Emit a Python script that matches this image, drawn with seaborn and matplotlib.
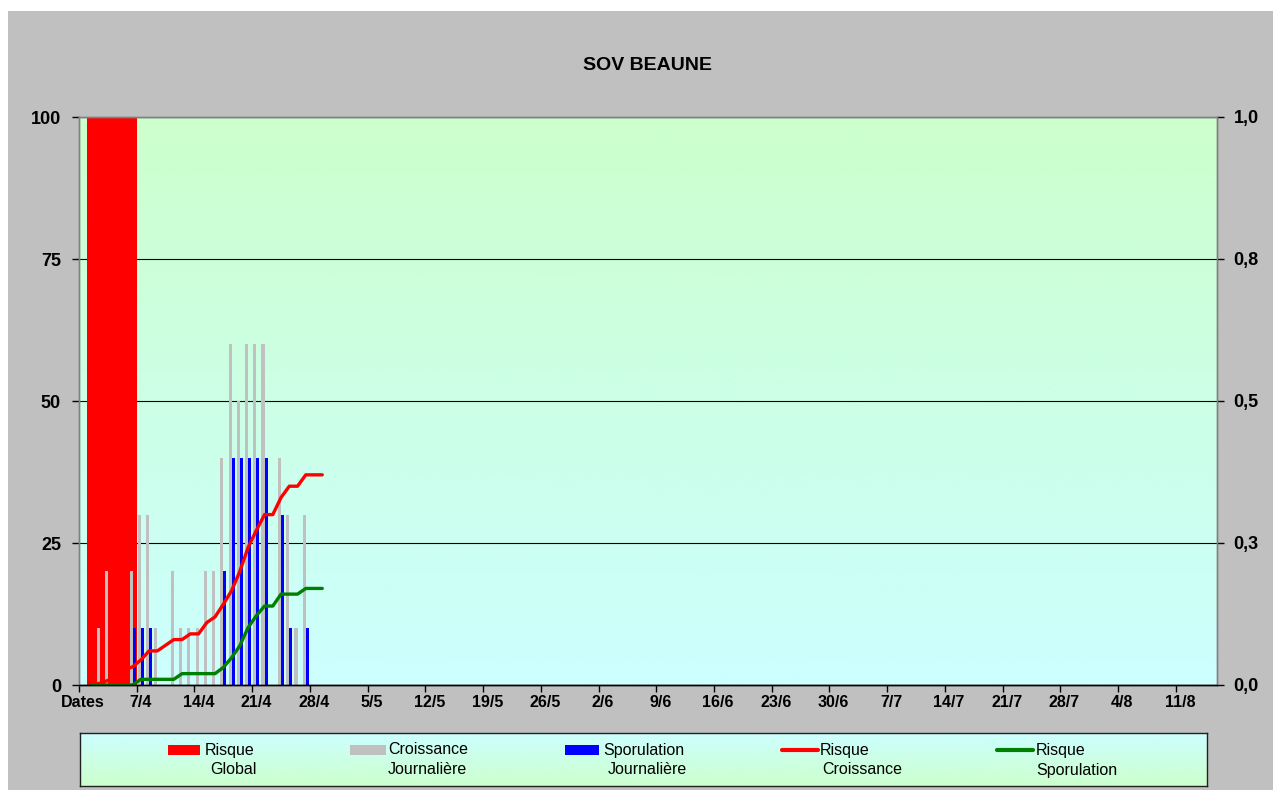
"""SOV BEAUNE : risque global, croissance et sporulation journalières (avril)."""

import numpy as np
import pandas as pd
import matplotlib
matplotlib.use('Agg')
import matplotlib.pyplot as plt
from matplotlib.patches import Rectangle
from matplotlib.lines import Line2D
import seaborn as sns

# Position 0 = "Dates", puis 1 = 1/4, 2 = 2/4 ...
jour = [1, 2, 3, 4, 5, 6, 7, 8, 9, 10, 11, 12, 13, 14, 15,
        16, 17, 18, 19, 20, 21, 22, 23, 24, 25, 26, 27, 28, 29]
risque_global = [100, 100, 100, 100, 100, 100, 0, 0, 0, 0, 0, 0, 0, 0, 0,
                 0, 0, 0, 0, 0, 0, 0, 0, 0, 0, 0, 0, 0, 0]
croissance = [0, 10, 20, 0, 0, 20, 30, 30, 10, 0, 20, 10, 10, 10, 20,
              20, 40, 60, 50, 60, 60, 60, 0, 40, 30, 10, 30, 0, 0]
sporulation = [0, 0, 0, 0, 0, 10, 10, 10, 0, 0, 0, 0, 0, 0, 0,
               0, 20, 40, 40, 40, 40, 40, 0, 30, 10, 0, 10, 0, 0]
risque_croissance = [0.0, 0.003, 0.008, 0.016, 0.026, 0.032, 0.044, 0.06, 0.06, 0.07,
                     0.08, 0.08, 0.09, 0.09, 0.11, 0.12, 0.142, 0.166, 0.20, 0.242,
                     0.272, 0.30, 0.30, 0.33, 0.35, 0.35, 0.37, 0.37, 0.37]
risque_sporulation = [0.0, 0.0, 0.0, 0.0, 0.0, 0.0, 0.01, 0.01, 0.01, 0.01,
                      0.01, 0.02, 0.02, 0.02, 0.02, 0.02, 0.031, 0.048, 0.069, 0.101,
                      0.122, 0.139, 0.139, 0.16, 0.16, 0.16, 0.17, 0.17, 0.17]

tick_labels = ['Dates', '7/4', '14/4', '21/4', '28/4', '5/5', '12/5', '19/5', '26/5',
               '2/6', '9/6', '16/6', '23/6', '30/6', '7/7', '14/7', '21/7', '28/7',
               '4/8', '11/8']
y_ticks = [0, 25, 50, 75, 100]
y2_ticks = [0, 0.25, 0.5, 0.75, 1.0]
y2_labels = ['0,0', '0,3', '0,5', '0,8', '1,0']
n_jours = 138  # Dates + 1/4 .. 15/8

W, H = 1273, 790


def gradient(top, bottom):
    """Image verticale allant de la couleur top à la couleur bottom."""
    top = np.array(matplotlib.colors.to_rgb(top))
    bottom = np.array(matplotlib.colors.to_rgb(bottom))
    t = np.linspace(0, 1, 256)[:, None]
    return (top + (bottom - top) * t)[:, None, :]


sns.set_style('ticks')
plt.rcParams['font.family'] = ['Liberation Sans', 'DejaVu Sans']
plt.rcParams['text.color'] = 'black'
plt.rcParams['xtick.color'] = 'black'
plt.rcParams['ytick.color'] = 'black'
plt.rcParams['axes.labelcolor'] = 'black'

fig = plt.figure(figsize=(W / 100, H / 100), dpi=100)
fig.patch.set_facecolor('white')
fig.add_artist(Rectangle((8 / W, 0), 1, 1 - 11 / H, transform=fig.transFigure,
                         facecolor='#C0C0C0', edgecolor='none', zorder=-10))

pos = [79 / W, 1 - 685 / H, 1138 / W, 568 / H]

# fond dégradé de la zone de tracé
bg = fig.add_axes(pos, zorder=0)
bg.imshow(gradient('#CCFFCC', '#CCFFFF'), extent=[0, 1, 0, 1], aspect='auto')
bg.set_xlim(0, 1)
bg.set_ylim(0, 1)
bg.axis('off')

ax = fig.add_axes(pos, zorder=1)
ax.patch.set_alpha(0)

sns.barplot(x=jour, y=risque_global, color='#FF0000', saturation=1, width=1.0,
            native_scale=True, linewidth=0, errorbar=None, ax=ax)

df_j = pd.DataFrame({'jour': jour + jour,
                     'valeur': croissance + sporulation,
                     'serie': ['Croissance'] * len(jour) + ['Sporulation'] * len(jour)})
sns.barplot(data=df_j, x='jour', y='valeur', hue='serie',
            palette=['#C0C0C0', '#0000FF'], saturation=1, width=0.74,
            native_scale=True, dodge=True, linewidth=0, errorbar=None,
            legend=False, ax=ax)

ax2 = ax.twinx()
sns.lineplot(x=jour, y=risque_croissance, color='#FF0000', linewidth=2.4, ax=ax2)
sns.lineplot(x=jour, y=risque_sporulation, color='#008000', linewidth=2.4, ax=ax2)

# axe des x : graduations entre catégories, étiquettes au centre
ax.set_xlim(-0.5, n_jours - 0.5)
ax.set_xticks(np.arange(-0.5, n_jours, 7))
ax.set_xticklabels([])
ax.set_xticks(np.arange(0, n_jours, 7)[:len(tick_labels)], minor=True)
ax.set_xticklabels(tick_labels, minor=True, fontsize=11.5, fontweight='bold')
ax.tick_params(axis='x', which='minor', length=0, pad=7, bottom=True)
ax.tick_params(axis='x', which='major', length=5, width=1, color='black',
               direction='out', bottom=True)

ax.set_ylim(0, 100)
ax.set_yticks(y_ticks)
ax.set_yticklabels([str(v) for v in y_ticks], fontsize=13, fontweight='bold')
ax.tick_params(axis='y', length=5, width=1, color='black', direction='out',
               pad=8, left=True)
ax.yaxis.grid(True, color='black', linewidth=0.8)
ax.xaxis.grid(False)
ax.set_axisbelow(True)
ax.set_xlabel('')
ax.set_ylabel('')

ax2.set_ylim(0, 1)
ax2.set_yticks(y2_ticks)
ax2.set_yticklabels(y2_labels, fontsize=13, fontweight='bold')
ax2.tick_params(axis='y', length=5, width=1, color='black', direction='out',
                pad=7, right=True)
ax2.grid(False)
ax2.set_ylabel('')
ax2.set_xlabel('')

for a in (ax, ax2):
    for side in ('left', 'right', 'top'):
        a.spines[side].set_color('#808080')
        a.spines[side].set_linewidth(1)
    a.spines['bottom'].set_color('black')
    a.spines['bottom'].set_linewidth(1)

fig.text(647 / W, 1 - 66 / H, 'SOV BEAUNE', ha='center', va='center',
         fontsize=14, fontweight='bold')

# légende dessinée à la main sous le graphique
lw_, lh_ = 1127, 53
lg = fig.add_axes([80 / W, 4 / H, lw_ / W, lh_ / H], zorder=2)
lg.imshow(gradient('#CCFFFF', '#CCFFCC'), extent=[0, lw_, 0, lh_], aspect='auto')
lg.set_xlim(0, lw_)
lg.set_ylim(0, lh_)
lg.set_xticks([])
lg.set_yticks([])
for s in lg.spines.values():
    s.set_color('#202020')
    s.set_linewidth(1)

entrees = [
    ('patch', '#FF0000', 88, 120, 125, 130, 'Risque', 'Global'),
    ('patch', '#C0C0C0', 270, 306, 308, 308, 'Croissance', 'Journalière'),
    ('patch', '#0000FF', 485, 519, 523, 528, 'Sporulation', 'Journalière'),
    ('line', '#FF0000', 702, 738, 740, 742, 'Risque', 'Croissance'),
    ('line', '#008000', 917, 953, 956, 956, 'Risque', 'Sporulation'),
]
y1, y2 = lh_ - 17, lh_ - 37
for kind, col, x0, x1, tx1, tx2, l1, l2 in entrees:
    if kind == 'patch':
        lg.add_patch(Rectangle((x0, y1 - 5), x1 - x0, 10, facecolor=col,
                               edgecolor='none'))
    else:
        lg.add_line(Line2D([x0, x1], [y1, y1], color=col, linewidth=3))
    lg.text(tx1, y1, l1, ha='left', va='center', fontsize=11.5)
    lg.text(tx2, y2, l2, ha='left', va='center', fontsize=11.5)

fig.savefig('out.png', dpi=100)
